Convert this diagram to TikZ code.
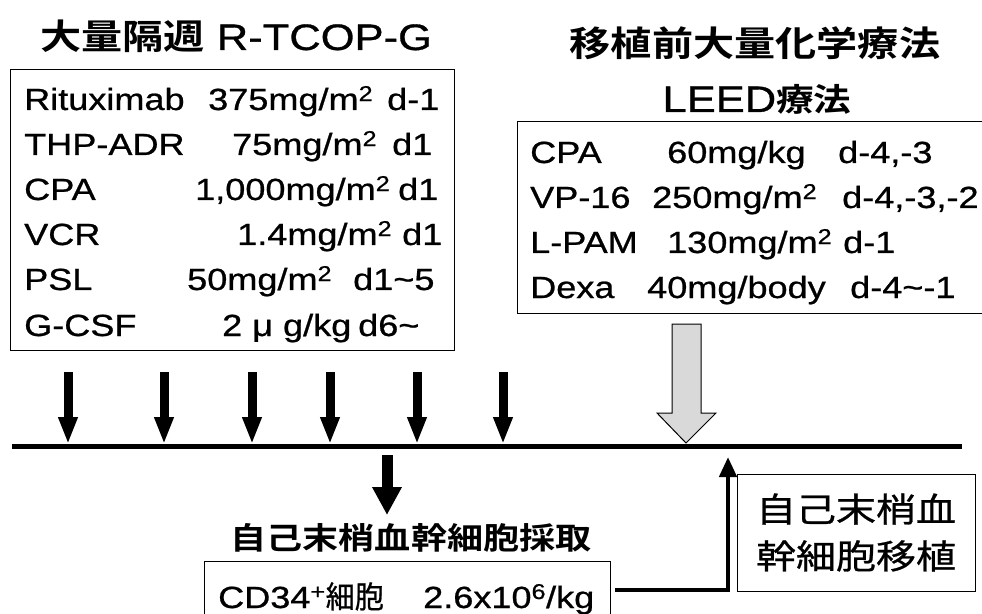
\documentclass[tikz,border=0pt]{standalone}
\usepackage{fontspec}
\setmainfont{Liberation Sans}[FakeStretch=1.18,FakeBold=0.8]
\newfontfamily\jp{Noto Sans CJK JP}[FakeStretch=1.18,FakeBold=0.8,BoldFont={Noto Sans CJK JP Bold},BoldFeatures={FakeBold=0}]
\newfontfamily\jpnarrow{Noto Sans CJK JP}[FakeStretch=0.95,FakeBold=0.8]
\usepackage{tikz}
\usetikzlibrary{arrows.meta}
\newcommand\rowsize{\fontsize{30.7}{36}\selectfont}
\newcommand\headsize{\fontsize{37}{44}\selectfont}

\begin{document}
\begin{tikzpicture}[x=1bp,y=-1bp]
\tikzstyle{frame}=[draw,line width=1bp,inner sep=0pt,anchor=north west]
\tikzstyle{txt}=[inner sep=0pt,anchor=base west,font=\rowsize]
\tikzstyle{dayarrow}=[line width=9bp,-{Triangle[width=18bp,length=27bp]}]
\clip (0,0) rectangle (982,614);
% titles
\node[inner sep=0pt,anchor=base west,font=\headsize] (ltitle) at (40,50) {{\jp\bfseries\fontsize{35}{42}\selectfont 大量隔週} R-TCOP-G};
\node[inner sep=0pt,font=\jp\bfseries\fontsize{35}{42}\selectfont] (rtitle) at (755,43) {移植前大量化学療法};
\node[inner sep=0pt,anchor=base,font=\headsize] (rtitle2) at (757,112) {LEED{\jp\bfseries\fontsize{32}{40}\selectfont 療法}};
% R-TCOP-G regimen
\node[frame,minimum width=444bp,minimum height=281bp] (lbox) at (10,69) {};
\node[txt] (rit) at (24,110) {Rituximab};
\node[txt] (ritdose) at (208,110) {375mg/m\textsuperscript{2}};
\node[txt] (ritday) at (387,110) {d-1};
\node[txt] (thp) at (24,155) {THP-ADR};
\node[txt] (thpdose) at (232,155) {75mg/m\textsuperscript{2}};
\node[txt] (thpday) at (392,155) {d1};
\node[txt] (cpa) at (24,200) {CPA};
\node[txt] (cpadose) at (195,200) {1,000mg/m\textsuperscript{2}};
\node[txt] (cpaday) at (398,200) {d1};
\node[txt] (vcr) at (24,245) {VCR};
\node[txt] (vcrdose) at (237,245) {1.4mg/m\textsuperscript{2}};
\node[txt] (vcrday) at (402,245) {d1};
\node[txt] (psl) at (24,290) {PSL};
\node[txt] (psldose) at (187,290) {50mg/m\textsuperscript{2}};
\node[txt] (pslday) at (353,290) {d1\textasciitilde 5};
\node[txt] (gcsf) at (24,336) {G-CSF};
\node[txt] (gcsfdose) at (222,336) {2 μ g/kg};
\node[txt] (gcsfday) at (358,336) {d6\textasciitilde};
% LEED regimen
\node[frame,minimum width=470bp,minimum height=192bp] (rbox) at (517,121) {};
\node[txt] (lcpa) at (530,163) {CPA};
\node[txt] (lcpadose) at (667,163) {60mg/kg};
\node[txt] (lcpaday) at (838,163) {d-4,-3};
\node[txt] (vp) at (530,208) {VP-16};
\node[txt] (vpdose) at (652,208) {250mg/m\textsuperscript{2}};
\node[txt] (vpday) at (842,208) {d-4,-3,-2};
\node[txt] (lpam) at (530,253) {L-PAM};
\node[txt] (lpamdose) at (667,253) {130mg/m\textsuperscript{2}};
\node[txt] (lpamday) at (843,253) {d-1};
\node[txt] (dexa) at (530,298) {Dexa};
\node[txt] (dexadose) at (647,298) {40mg/body};
\node[txt] (dexaday) at (850,298) {d-4\textasciitilde -1};
% time line
\coordinate (t0) at (12,446);
\coordinate (t1) at (962,446);
\draw[line width=5bp] (t0) -- (t1);
% R-TCOP-G courses
\foreach \x [count=\i] in {68,164,252,330,417,503} {
  \coordinate (top\i) at (\x,372);
  \coordinate (hit\i) at (\x,444);
  \draw[dayarrow] (top\i) -- (hit\i);
}
% LEED (hollow block arrow)
\coordinate (leedtip) at (686,443);
\draw[line width=1bp,fill=gray!30] (leedtip) -- ++(30,-30) -- ++(-15,0) -- ++(0,-89) -- ++(-29,0) -- ++(0,89) -- ++(-15,0) -- cycle;
% harvest
\coordinate (coltop) at (387,455);
\coordinate (coltip) at (387,515);
\draw[line width=11bp,-{Triangle[width=28bp,length=28bp]}] (coltop) -- (coltip);
\node[inner sep=0pt,font=\jp\bfseries\fontsize{30.7}{36}\selectfont] (collect) at (411,538) {自己末梢血幹細胞採取};
\node[frame,minimum width=406bp,minimum height=80bp] (cdbox) at (204,561) {};
\node[txt] (cdtext) at (218,608) {CD34\textsuperscript{+}{\jpnarrow 細胞}};
\node[txt] (cdnum) at (423,608) {2.6x10\textsuperscript{6}/kg};
% transplant
\node[draw,line width=1bp,inner sep=0pt,minimum width=238bp,minimum height=117bp,align=center,font=\jp\fontsize{34}{47}\selectfont] (tx) at (856,532.5) {自己末梢血\\幹細胞移植};
\coordinate (cdout) at (615,590);
\coordinate (txtip) at (728,457);
\draw[line width=4.5bp,-{Triangle[width=17bp,length=20bp]}] (cdout) -| (txtip);
\end{tikzpicture}
\end{document}
